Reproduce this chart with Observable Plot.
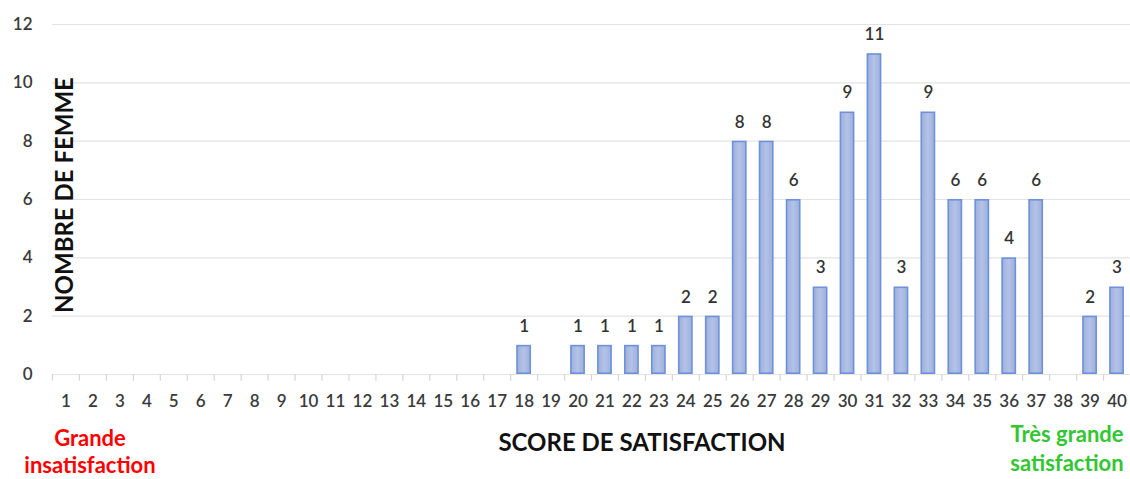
<!DOCTYPE html>
<html>
<head>
<meta charset="utf-8">
<script src="https://cdn.jsdelivr.net/npm/d3@7"></script>
<script src="https://cdn.jsdelivr.net/npm/@observablehq/plot@0.6"></script>
<style>
  html, body { margin: 0; padding: 0; background: #fff; }
  #chart { width: 1130px; height: 479px; }
  svg { font-family: Lato, "Open Sans", sans-serif; }
</style>
</head>
<body>
<div id="chart"></div>
<script>
const scores = d3.range(1, 41);
const counts = [0,0,0,0,0,0,0,0,0,0,0,0,0,0,0,0,0,1,0,1,1,1,1,2,2,8,8,6,3,9,11,3,9,6,6,4,6,0,2,3];
const yTicks = [0, 2, 4, 6, 8, 10, 12];
const xTitle = "SCORE DE SATISFACTION";
const yTitle = "NOMBRE DE FEMME";
const leftNote = ["Grande", "insatisfaction"];
const rightNote = ["Très grande", "satisfaction"];

const data = scores.map((s, i) => ({score: s, count: counts[i]}));
const bars = data.filter(d => d.count > 0);

const W = 1130, H = 479, mL = 52, mR = 0, mT = 24, mB = 105;
const bw = (W - mL - mR) / scores.length;

const chart = Plot.plot({
  width: W,
  height: H,
  marginLeft: mL,
  marginRight: mR,
  marginTop: mT,
  marginBottom: mB,
  style: {fontFamily: "Lato, 'Open Sans', sans-serif", background: "#fff"},
  x: {type: "band", domain: scores, paddingInner: 0.45, paddingOuter: 0.225, align: 0.5, round: false},
  y: {domain: [0, 12]},
  marks: [
    Plot.ruleY(yTicks, {stroke: "#e3e3e3", strokeWidth: 1.2}),
    Plot.ruleX(scores, {x: d => d, y1: 0, y2: -0.23, dx: -bw / 2, stroke: "#d6d6d6", strokeWidth: 1.2}),
    Plot.axisY({ticks: yTicks, tickSize: 0, tickPadding: 20, fontSize: 17, fill: "#3a3a3a", fontWeight: 600, label: null}),
    Plot.axisX({tickSize: 0, tickPadding: 20, fontSize: 17, fill: "#3a3a3a", fontWeight: 600, label: null}),
    Plot.barY(bars, {x: "score", y: "count", fill: "url(#barGrad)", stroke: "#6f91d8", strokeWidth: 1.6, inset: 0.8}),
    Plot.text(bars, {x: "score", y: "count", text: d => String(d.count), dy: -19, fontSize: 17, fontWeight: 600, fill: "#333"})
  ]
});

// gradient definition
const svg = d3.select(chart);
const defs = svg.insert("defs", ":first-child");
const g = defs.append("linearGradient").attr("id", "barGrad").attr("x1", "0").attr("x2", "1").attr("y1", "0").attr("y2", "0");
g.append("stop").attr("offset", "0%").attr("stop-color", "#9cb0df");
g.append("stop").attr("offset", "50%").attr("stop-color", "#b4c2e6");
g.append("stop").attr("offset", "100%").attr("stop-color", "#9cb0df");

// titles
svg.append("text")
  .attr("x", 642).attr("y", 451)
  .attr("text-anchor", "middle")
  .attr("font-size", 24).attr("font-weight", "bold").attr("fill", "#111")
  .text(xTitle);

svg.append("text")
  .attr("transform", "translate(73,195) rotate(-90)")
  .attr("text-anchor", "middle")
  .attr("font-size", 24).attr("font-weight", "bold").attr("fill", "#111")
  .text(yTitle);

const ln = svg.append("text").attr("text-anchor", "middle").attr("font-size", 22).attr("font-weight", "bold").attr("fill", "#ff0000");
ln.append("tspan").attr("x", 90).attr("y", 446).text(leftNote[0]);
ln.append("tspan").attr("x", 90).attr("y", 473).text(leftNote[1]);

const rn = svg.append("text").attr("text-anchor", "middle").attr("font-size", 22).attr("font-weight", "bold").attr("fill", "#33c633");
rn.append("tspan").attr("x", 1067).attr("y", 442).text(rightNote[0]);
rn.append("tspan").attr("x", 1067).attr("y", 471).text(rightNote[1]);

document.getElementById("chart").appendChild(chart);
</script>
</body>
</html>
